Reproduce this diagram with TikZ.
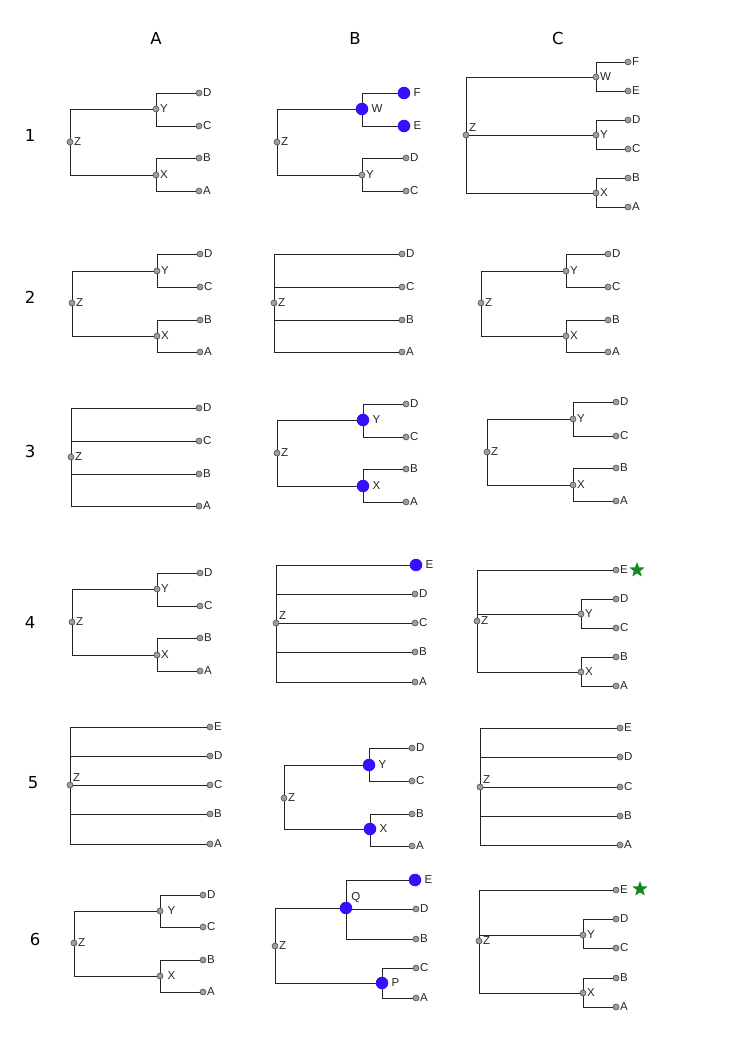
\documentclass[tikz,border=0pt]{standalone}
\usepackage{fontspec}
\setmainfont{DejaVu Sans}
\newfontfamily\lblfont{Liberation Sans}
\usetikzlibrary{shapes.geometric,backgrounds}
\definecolor{bluenode}{RGB}{51,17,255}
\definecolor{stargreen}{RGB}{17,136,34}
\definecolor{smfill}{RGB}{158,158,158}
\definecolor{smdraw}{RGB}{80,80,80}
\definecolor{edgecol}{RGB}{35,35,35}
\newcommand\trsmall[5][right]{\node[smallnode,label={#1:#5}] (#2) at (#3,#4) {};}
\newcommand\trbig[5][{[label distance=2.5pt]right}]{\node[bignode,label={#1:#5}] (#2) at (#3,#4) {};}
\newcommand\trlink[2]{\draw[edgeline] (#1.center) |- (#2.center);}
\tikzset{
  smallnode/.style={circle,minimum size=6pt,inner sep=0pt,fill=smfill,draw=smdraw,line width=0.6pt},
  bignode/.style={circle,minimum size=12.5pt,inner sep=0pt,fill=bluenode},
  edgeline/.style={draw=edgecol,line width=0.9pt},
  headtext/.style={font=\fontsize{16.5}{18}\selectfont,inner sep=0pt},
  starnode/.style={star,star points=5,star point ratio=2.4,minimum size=16pt,inner sep=0pt,fill=stargreen}
}
\begin{document}
\begin{tikzpicture}[x=1pt,y=-1pt,
  every label/.style={font=\lblfont\fontsize{11.5}{13}\selectfont,inner sep=0.5pt,text=black!85},
  label distance=0.2pt]
\useasboundingbox (0,0) rectangle (744,1052);

% headers
\node[headtext] (hA) at (156,38) {A};
\node[headtext] (hB) at (355,38) {B};
\node[headtext] (hC) at (558,38) {C};
\node[headtext] (r1) at (30,135) {1};
\node[headtext] (r2) at (30,297) {2};
\node[headtext] (r3) at (30,451) {3};
\node[headtext] (r4) at (30,622) {4};
\node[headtext] (r5) at (33,783) {5};
\node[headtext] (r6) at (35,939) {6};

% ---------- row 1 ----------
\trsmall{aaZ}{70}{142}{Z}
\trsmall{aaY}{156}{109}{Y}
\trsmall{aaX}{156}{175}{X}
\trsmall{aaD}{199}{93}{D}
\trsmall{aaC}{199}{126}{C}
\trsmall{aaB}{199}{158}{B}
\trsmall{aaA}{199}{191}{A}

\trsmall{abZ}{277}{142}{Z}
\trbig{abW}{362}{109}{W}
\trsmall{abY}{362}{175}{Y}
\trbig{abF}{404}{93}{F}
\trbig{abE}{404}{126}{E}
\trsmall{abD}{406}{158}{D}
\trsmall{abC}{406}{191}{C}

\trsmall[above right]{acZ}{466}{135}{Z}
\trsmall{acW}{596}{77}{W}
\trsmall{acY}{596}{135}{Y}
\trsmall{acX}{596}{193}{X}
\trsmall{acF}{628}{62}{F}
\trsmall{acE}{628}{91}{E}
\trsmall{acD}{628}{120}{D}
\trsmall{acC}{628}{149}{C}
\trsmall{acB}{628}{178}{B}
\trsmall{acA}{628}{207}{A}

% ---------- row 2 ----------
\trsmall{baZ}{72}{303}{Z}
\trsmall{baY}{157}{271}{Y}
\trsmall{baX}{157}{336}{X}
\trsmall{baD}{200}{254}{D}
\trsmall{baC}{200}{287}{C}
\trsmall{baB}{200}{320}{B}
\trsmall{baA}{200}{352}{A}

\trsmall{bbZ}{274}{303}{Z}
\trsmall{bbD}{402}{254}{D}
\trsmall{bbC}{402}{287}{C}
\trsmall{bbB}{402}{320}{B}
\trsmall{bbA}{402}{352}{A}

\trsmall{bcZ}{481}{303}{Z}
\trsmall{bcY}{566}{271}{Y}
\trsmall{bcX}{566}{336}{X}
\trsmall{bcD}{608}{254}{D}
\trsmall{bcC}{608}{287}{C}
\trsmall{bcB}{608}{320}{B}
\trsmall{bcA}{608}{352}{A}

% ---------- row 3 ----------
\trsmall{caZ}{71}{457}{Z}
\trsmall{caD}{199}{408}{D}
\trsmall{caC}{199}{441}{C}
\trsmall{caB}{199}{474}{B}
\trsmall{caA}{199}{506}{A}

\trsmall{cbZ}{277}{453}{Z}
\trbig{cbY}{363}{420}{Y}
\trbig{cbX}{363}{486}{X}
\trsmall{cbD}{406}{404}{D}
\trsmall{cbC}{406}{437}{C}
\trsmall{cbB}{406}{469}{B}
\trsmall{cbA}{406}{502}{A}

\trsmall{ccZ}{487}{452}{Z}
\trsmall{ccY}{573}{419}{Y}
\trsmall{ccX}{573}{485}{X}
\trsmall{ccD}{616}{402}{D}
\trsmall{ccC}{616}{436}{C}
\trsmall{ccB}{616}{468}{B}
\trsmall{ccA}{616}{501}{A}

% ---------- row 4 ----------
\trsmall{daZ}{72}{622}{Z}
\trsmall{daY}{157}{589}{Y}
\trsmall{daX}{157}{655}{X}
\trsmall{daD}{200}{573}{D}
\trsmall{daC}{200}{606}{C}
\trsmall{daB}{200}{638}{B}
\trsmall{daA}{200}{671}{A}

\trsmall[above right]{dbZ}{276}{623}{Z}
\trbig{dbE}{416}{565}{E}
\trsmall{dbD}{415}{594}{D}
\trsmall{dbC}{415}{623}{C}
\trsmall{dbB}{415}{652}{B}
\trsmall{dbA}{415}{682}{A}

\trsmall{dcZ}{477}{621}{Z}
\trsmall{dcE}{616}{570}{E}
\trsmall{dcY}{581}{614}{Y}
\trsmall{dcX}{581}{672}{X}
\trsmall{dcD}{616}{599}{D}
\trsmall{dcC}{616}{628}{C}
\trsmall{dcB}{616}{657}{B}
\trsmall{dcA}{616}{686}{A}
\node[starnode] (dcStar) at (637,570) {};

% ---------- row 5 ----------
\trsmall[above right]{eaZ}{70}{785}{Z}
\trsmall{eaE}{210}{727}{E}
\trsmall{eaD}{210}{756}{D}
\trsmall{eaC}{210}{785}{C}
\trsmall{eaB}{210}{814}{B}
\trsmall{eaA}{210}{844}{A}

\trsmall{ebZ}{284}{798}{Z}
\trbig{ebY}{369}{765}{Y}
\trbig{ebX}{370}{829}{X}
\trsmall{ebD}{412}{748}{D}
\trsmall{ebC}{412}{781}{C}
\trsmall{ebB}{412}{814}{B}
\trsmall{ebA}{412}{846}{A}

\trsmall[above right]{ecZ}{480}{787}{Z}
\trsmall{ecE}{620}{728}{E}
\trsmall{ecD}{620}{757}{D}
\trsmall{ecC}{620}{787}{C}
\trsmall{ecB}{620}{816}{B}
\trsmall{ecA}{620}{845}{A}

% ---------- row 6 ----------
\trsmall{faZ}{74}{943}{Z}
\trsmall[{[label distance=3.5pt]right}]{faY}{160}{911}{Y}
\trsmall[{[label distance=3.5pt]right}]{faX}{160}{976}{X}
\trsmall{faD}{203}{895}{D}
\trsmall{faC}{203}{927}{C}
\trsmall{faB}{203}{960}{B}
\trsmall{faA}{203}{992}{A}

\trsmall{fbZ}{275}{946}{Z}
\trbig[above right]{fbQ}{346}{908}{Q}
\trbig{fbE}{415}{880}{E}
\trsmall{fbD}{416}{909}{D}
\trsmall{fbB}{416}{939}{B}
\trbig{fbP}{382}{983}{P}
\trsmall{fbC}{416}{968}{C}
\trsmall{fbA}{416}{998}{A}

\trsmall{fcZ}{479}{941}{Z}
\trsmall{fcE}{616}{890}{E}
\trsmall{fcY}{583}{935}{Y}
\trsmall{fcX}{583}{993}{X}
\trsmall{fcD}{616}{919}{D}
\trsmall{fcC}{616}{948}{C}
\trsmall{fcB}{616}{978}{B}
\trsmall{fcA}{616}{1007}{A}
\node[starnode] (fcStar) at (640,889) {};

% ---------- connectors ----------
\begin{pgfonlayer}{background}
\fill[white] (0,0) rectangle (744,1052);
\trlink{aaZ}{aaY}\trlink{aaZ}{aaX}\trlink{aaY}{aaD}\trlink{aaY}{aaC}\trlink{aaX}{aaB}\trlink{aaX}{aaA}
\trlink{abZ}{abW}\trlink{abZ}{abY}\trlink{abW}{abF}\trlink{abW}{abE}\trlink{abY}{abD}\trlink{abY}{abC}
\trlink{acZ}{acW}\trlink{acZ}{acY}\trlink{acZ}{acX}\trlink{acW}{acF}\trlink{acW}{acE}\trlink{acY}{acD}\trlink{acY}{acC}\trlink{acX}{acB}\trlink{acX}{acA}

\trlink{baZ}{baY}\trlink{baZ}{baX}\trlink{baY}{baD}\trlink{baY}{baC}\trlink{baX}{baB}\trlink{baX}{baA}
\trlink{bbZ}{bbD}\trlink{bbZ}{bbC}\trlink{bbZ}{bbB}\trlink{bbZ}{bbA}
\trlink{bcZ}{bcY}\trlink{bcZ}{bcX}\trlink{bcY}{bcD}\trlink{bcY}{bcC}\trlink{bcX}{bcB}\trlink{bcX}{bcA}

\trlink{caZ}{caD}\trlink{caZ}{caC}\trlink{caZ}{caB}\trlink{caZ}{caA}
\trlink{cbZ}{cbY}\trlink{cbZ}{cbX}\trlink{cbY}{cbD}\trlink{cbY}{cbC}\trlink{cbX}{cbB}\trlink{cbX}{cbA}
\trlink{ccZ}{ccY}\trlink{ccZ}{ccX}\trlink{ccY}{ccD}\trlink{ccY}{ccC}\trlink{ccX}{ccB}\trlink{ccX}{ccA}

\trlink{daZ}{daY}\trlink{daZ}{daX}\trlink{daY}{daD}\trlink{daY}{daC}\trlink{daX}{daB}\trlink{daX}{daA}
\trlink{dbZ}{dbE}\trlink{dbZ}{dbD}\trlink{dbZ}{dbC}\trlink{dbZ}{dbB}\trlink{dbZ}{dbA}
\trlink{dcZ}{dcE}\trlink{dcZ}{dcY}\trlink{dcZ}{dcX}\trlink{dcY}{dcD}\trlink{dcY}{dcC}\trlink{dcX}{dcB}\trlink{dcX}{dcA}

\trlink{eaZ}{eaE}\trlink{eaZ}{eaD}\trlink{eaZ}{eaC}\trlink{eaZ}{eaB}\trlink{eaZ}{eaA}
\trlink{ebZ}{ebY}\trlink{ebZ}{ebX}\trlink{ebY}{ebD}\trlink{ebY}{ebC}\trlink{ebX}{ebB}\trlink{ebX}{ebA}
\trlink{ecZ}{ecE}\trlink{ecZ}{ecD}\trlink{ecZ}{ecC}\trlink{ecZ}{ecB}\trlink{ecZ}{ecA}

\trlink{faZ}{faY}\trlink{faZ}{faX}\trlink{faY}{faD}\trlink{faY}{faC}\trlink{faX}{faB}\trlink{faX}{faA}
\trlink{fbZ}{fbQ}\trlink{fbZ}{fbP}\trlink{fbQ}{fbE}\trlink{fbQ}{fbD}\trlink{fbQ}{fbB}\trlink{fbP}{fbC}\trlink{fbP}{fbA}
\trlink{fcZ}{fcE}\trlink{fcZ}{fcY}\trlink{fcZ}{fcX}\trlink{fcY}{fcD}\trlink{fcY}{fcC}\trlink{fcX}{fcB}\trlink{fcX}{fcA}
\end{pgfonlayer}
\end{tikzpicture}
\end{document}
